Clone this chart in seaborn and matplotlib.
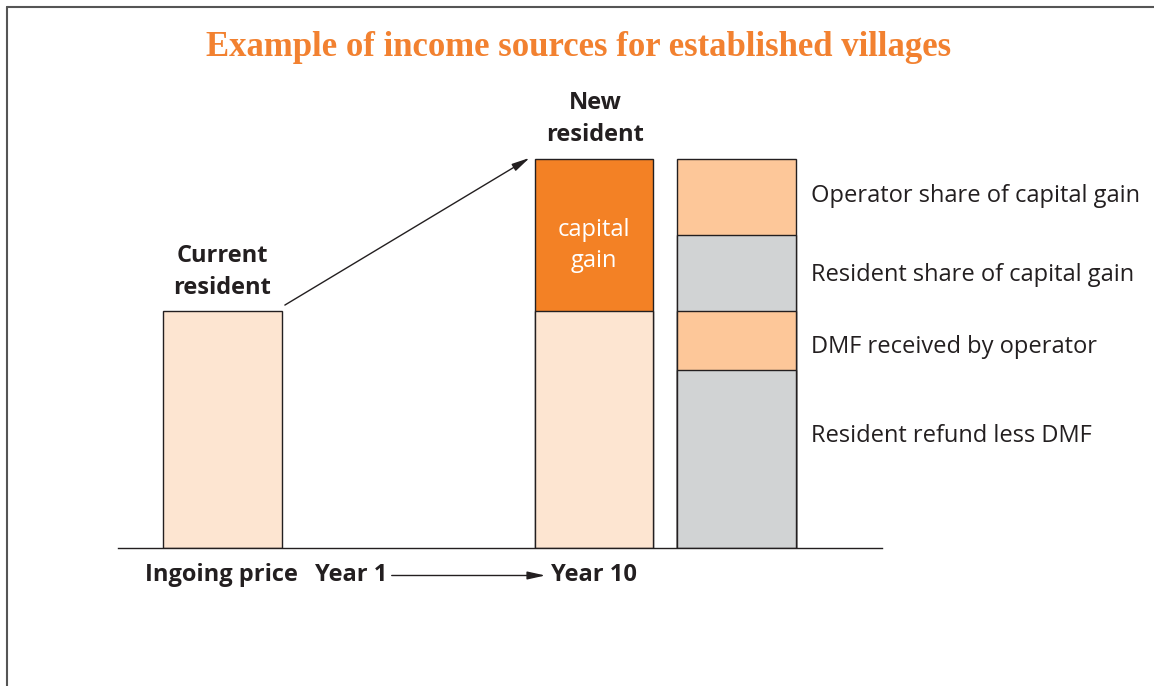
import matplotlib
matplotlib.use("Agg")
import matplotlib.pyplot as plt
from matplotlib.lines import Line2D
import seaborn as sns
import pandas as pd

# ---- data ----
title = "Example of income sources for established villages"
bar_names = ["Current resident", "New resident", "Breakdown"]
ingoing_price = 100
capital_gain = 64
breakdown_labels = ["Resident refund less DMF", "DMF received by operator",
                    "Resident share of capital gain", "Operator share of capital gain"]
breakdown_values = [75, 25, 32, 32]
x_labels = ["Ingoing price", "Year 1", "Year 10"]

# ---- style ----
sns.set_theme(style="white")
plt.rcParams['font.family'] = ['Open Sans', 'DejaVu Sans']

C_LIGHT = "#FDE5D1"
C_ORANGE = "#F38125"
C_PEACH = "#FDC799"
C_GREY = "#D1D3D4"
C_TEXT = "#231F20"
C_TITLE = "#F28130"
EDGE = "#231F20"

W, H = 1154, 686
fig = plt.figure(figsize=(W / 100, H / 100), dpi=100)
ax = fig.add_axes([118 / W, 138 / H, (882 - 118) / W, (548 - 100) / H])

pos = [0.0, 2.6, 3.6]
bw = 0.83

def draw(xp, h, color):
    df = pd.DataFrame({"x": [xp], "y": [h]})
    sns.barplot(data=df, x="x", y="y", native_scale=True, width=bw, color=color,
                saturation=1, edgecolor=EDGE, linewidth=1.0, ax=ax, zorder=2)

# bar 1
draw(pos[0], ingoing_price, C_LIGHT)
# bar 2 (stacked, draw cumulative from top down)
draw(pos[1], ingoing_price + capital_gain, C_ORANGE)
draw(pos[1], ingoing_price, C_LIGHT)
# bar 3
cols3 = [C_GREY, C_PEACH, C_GREY, C_PEACH]
cum = []
s = 0
for v in breakdown_values:
    s += v
    cum.append(s)
for h, c in reversed(list(zip(cum, cols3))):
    draw(pos[2], h, c)

ax.set_xlim(-0.731, 4.617)
ax.set_ylim(0, 448 / 2.37)
for sp in ["top", "right", "left"]:
    ax.spines[sp].set_visible(False)
ax.spines["bottom"].set_color(EDGE)
ax.spines["bottom"].set_linewidth(1.0)
ax.set_xticks([])
ax.set_yticks([])
ax.set_xlabel("")
ax.set_ylabel("")
ax.patch.set_alpha(0)

fs = 17
ls = 1.42
# labels above bars
ax.text(pos[0], 116.5, "Current\nresident", ha="center", va="center",
        fontsize=fs, fontweight="bold", color=C_TEXT, linespacing=ls)
ax.text(pos[1] + 0.01, 181.0, "New\nresident", ha="center", va="center",
        fontsize=fs, fontweight="bold", color=C_TEXT, linespacing=ls, clip_on=False)
ax.text(pos[1], 127.6, "capital\ngain", ha="center", va="center",
        fontsize=fs, color="white", linespacing=ls)

# breakdown labels
label_y = [47.3, 84.8, 115.2, 148.5]
xr = pos[2] + bw / 2 + 0.105
for lab, yl in zip(breakdown_labels, label_y):
    ax.text(xr, yl, lab, ha="left", va="center", fontsize=fs, color=C_TEXT, clip_on=False)

# bottom labels
yb = -11.6
ax.text(-0.01, yb, x_labels[0], ha="center", va="center", fontsize=fs,
        fontweight="bold", color=C_TEXT, clip_on=False)
ax.text(0.898, yb, x_labels[1], ha="center", va="center", fontsize=fs,
        fontweight="bold", color=C_TEXT, clip_on=False)
ax.text(pos[1], yb, x_labels[2], ha="center", va="center", fontsize=fs,
        fontweight="bold", color=C_TEXT, clip_on=False)
ax.annotate("", xy=(2.26, yb), xytext=(1.185, yb), annotation_clip=False,
            arrowprops=dict(arrowstyle="-|>,head_length=0.9,head_width=0.2",
                            color=C_TEXT, lw=1.0, shrinkA=0, shrinkB=0))

# diagonal arrow
ax.annotate("", xy=(2.15, 164.6), xytext=(0.437, 102.5), annotation_clip=False,
            arrowprops=dict(arrowstyle="-|>,head_length=0.9,head_width=0.2",
                            color=C_TEXT, lw=1.0, shrinkA=0, shrinkB=0))

# title
fig.text(579 / W, 1 - 47 / H, title, ha="center", va="center", fontsize=25,
         fontweight="bold", color=C_TITLE, family=["Liberation Serif", "DejaVu Serif"])

# frame lines (top and left)
fig.add_artist(Line2D([6.5 / W, 1], [1 - 6.5 / H, 1 - 6.5 / H], color="#555555", lw=1.5,
                      transform=fig.transFigure))
fig.add_artist(Line2D([6.5 / W, 6.5 / W], [0, 1 - 6.5 / H], color="#555555", lw=1.5,
                      transform=fig.transFigure))

fig.savefig("out.png", dpi=100)
